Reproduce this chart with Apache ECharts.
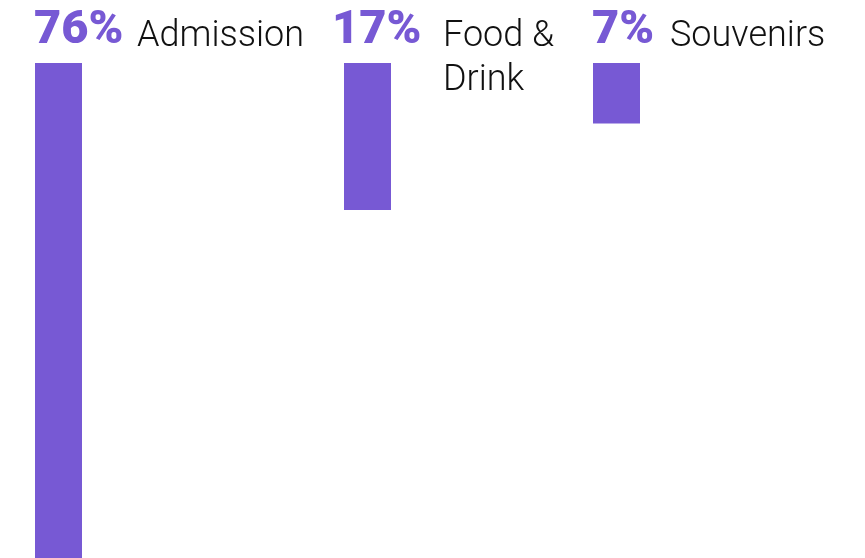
<!DOCTYPE html>
<html><head><meta charset="utf-8">
<script src="https://cdn.jsdelivr.net/npm/echarts@6/dist/echarts.min.js"></script>
<style>html,body{margin:0;padding:0;background:#fff}#c{width:865px;height:558px}</style>
</head><body><div id="c"></div>
<script>
const categories = ['Admission', 'Food & Drink', 'Souvenirs'];
const values = [76, 17, 7];
const pctLabels = ['76%', '17%', '7%'];

// layout (not data)
const gridLefts = [35, 344, 593];
const barW = 47;
const pxPerUnit = 8.65;
const gridTop = 63, gridH = 495;
const labelDx = [-1, -12, -1];
const pctBoxW = [103, 111, 78];
const color = '#7759d4';

const chart = echarts.init(document.getElementById('c'));
const grids = [], xAxes = [], yAxes = [], series = [];
categories.forEach((cat, i) => {
  grids.push({left: gridLefts[i], top: gridTop, width: barW, height: gridH});
  xAxes.push({type: 'category', gridIndex: i, data: [cat], show: false});
  yAxes.push({type: 'value', gridIndex: i, min: 0, max: gridH / pxPerUnit, inverse: true, show: false});
  const nameParts = cat.indexOf(' & ') >= 0 ? cat.replace(' & ', ' &\n').split('\n') : [cat];
  let fmt = '{pct|' + pctLabels[i] + '}{name|' + nameParts[0] + '}';
  for (let k = 1; k < nameParts.length; k++) fmt += '\n{ind|}{name|' + nameParts[k] + '}';
  series.push({
    type: 'bar', xAxisIndex: i, yAxisIndex: i, barWidth: '100%', silent: true, clip: true,
    itemStyle: {color: color},
    data: [values[i]],
    label: {
      show: true, position: [labelDx[i], -52], align: 'left', verticalAlign: 'top',
      formatter: fmt,
      rich: {
        pct: {fontFamily: 'Roboto', fontWeight: 900, fontSize: 47, color: color, width: pctBoxW[i], lineHeight: 44, verticalAlign: 'bottom'},
        name: {fontFamily: 'Roboto', fontWeight: 300, fontSize: 36, color: '#111', lineHeight: 44, verticalAlign: 'bottom'},
        ind: {width: pctBoxW[i], lineHeight: 44}
      }
    }
  });
});
chart.setOption({animation: false, grid: grids, xAxis: xAxes, yAxis: yAxes, series: series});
</script></body></html>
